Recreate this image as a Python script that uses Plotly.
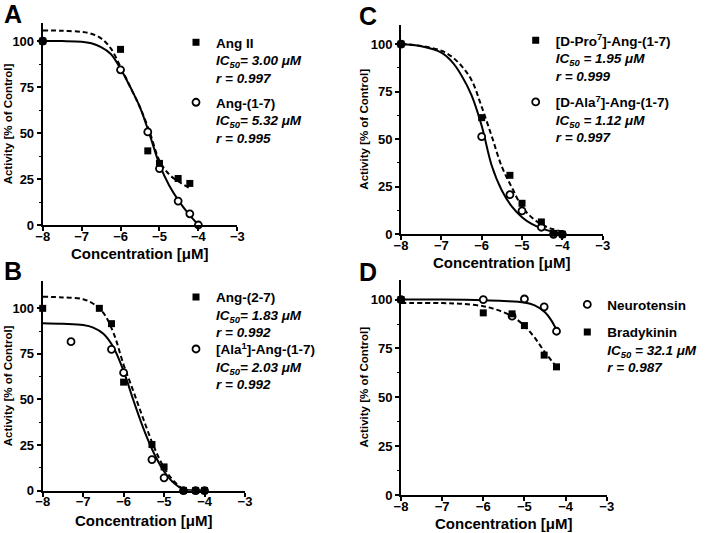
import plotly.graph_objects as go

W, H = 712, 533
FONT = "Liberation Sans, Arial, sans-serif"

# ---------------- data (log10 concentration [M], activity % of control) ----------------
# Panel A
a_conc_angii = [-8, -6, -5.3, -5, -4.52, -4.22]
a_act_angii = [100, 95.5, 40.3, 33.5, 25.3, 22.6]
a_conc_ang17 = [-8, -6, -5.3, -5, -4.52, -4.22, -4]
a_act_ang17 = [100, 84.4, 50.6, 30.7, 13.0, 6.1, 0]
a_fit_x_angii = [-8, -7.5, -7, -6.75, -6.5, -6.25, -6, -5.75, -5.5, -5.25, -5, -4.75, -4.5, -4.22]
a_fit_y_angii = [105.8, 105.6, 105, 104, 101.5, 96, 86, 75, 64, 50.5, 35, 27.5, 23.5, 20]
a_fit_x_ang17 = [-8, -7.5, -7, -6.75, -6.5, -6.25, -6, -5.75, -5.5, -5.25, -5, -4.75, -4.5, -4.25, -4]
a_fit_y_ang17 = [100, 100, 99.7, 98.8, 96.7, 93, 85, 75, 64, 49, 33, 21.5, 13, 6, 0]

# Panel B
b_conc_ang27 = [-8, -6.6, -6.3, -6, -5.3, -5, -4.52, -4.22, -4]
b_act_ang27 = [100, 100, 91.6, 59.5, 25.3, 13, 0, 0, 0]
b_conc_ala1 = [-7.3, -6.3, -6, -5.3, -5, -4.52, -4.22, -4]
b_act_ala1 = [81.7, 77.5, 64.7, 17, 7, 0, 0, 0]
b_fit_x = [-8, -7.5, -7, -6.75, -6.5, -6.25, -6, -5.75, -5.5, -5.25, -5, -4.75, -4.5, -4.25, -4]
b_fit_y_ang27 = [106.4, 106, 105, 102.5, 97.5, 86.5, 69, 54, 38.5, 24, 12.5, 5, 0.5, 0, 0]
b_fit_y_ala1 = [91.8, 91.5, 90.8, 89.4, 86, 78.5, 65.5, 49, 33.5, 20.5, 10.5, 4, 0.5, 0, 0]

# Panel C
c_conc_dpro = [-8, -6, -5.3, -5, -4.52, -4.22, -4]
c_act_dpro = [100, 61.3, 31, 16.3, 6.5, 0.5, 0]
c_conc_dala = [-8, -6, -5.3, -5, -4.52, -4.22, -4]
c_act_dala = [100, 51.3, 20.8, 12.3, 3.7, 0, 0]
c_fit_x = [-8, -7.5, -7, -6.75, -6.5, -6.25, -6, -5.75, -5.5, -5.25, -5, -4.75, -4.5, -4.25, -4]
c_fit_y_dpro = [100, 99, 96.5, 93.5, 88.5, 81, 67, 51.5, 35.5, 24.5, 14.5, 8.7, 5, 2.8, 1.4]
c_fit_y_dala = [100, 98.8, 95.5, 91, 83.5, 73, 57, 36, 23, 14.5, 9, 5.3, 3, 1.5, 0.5]

# Panel D
d_conc_neuro = [-8, -6, -5.3, -5, -4.52, -4.22]
d_act_neuro = [100, 100, 91.5, 100.3, 96.3, 83.8]
d_conc_brady = [-8, -6, -5.3, -5, -4.52, -4.22]
d_act_brady = [100, 93.2, 92.7, 86.7, 71.6, 65.6]
d_fit_x_neuro = [-8, -7, -6, -5.5, -5, -4.75, -4.5, -4.35, -4.22]
d_fit_y_neuro = [100, 100, 99.7, 99.3, 98.5, 97, 93.5, 89.5, 84.5]
d_fit_x_brady = [-8, -7, -6.5, -6, -5.75, -5.5, -5.25, -5, -4.75, -4.5, -4.22]
d_fit_y_brady = [98.3, 98.2, 97.8, 96.6, 95.3, 93.5, 90.8, 86.5, 80.5, 73, 65.6]

x_ticks = [-8, -7, -6, -5, -4, -3]
y_ticks = [0, 25, 50, 75, 100]
y_minor = [12.5, 37.5, 62.5, 87.5]

x_title = "Concentration [μM]"
y_title = "Activity [% of Control]"

# legend texts
lab_angii = "Ang II<br><i>IC<sub>50</sub>= 3.00 μM</i><br><i>r = 0.997</i>"
lab_ang17 = "Ang-(1-7)<br><i>IC<sub>50</sub>= 5.32 μM</i><br><i>r = 0.995</i>"
lab_ang27 = "Ang-(2-7)<br><i>IC<sub>50</sub>= 1.83 μM</i><br><i>r = 0.992</i>"
lab_ala1 = "[Ala<sup>1</sup>]-Ang-(1-7)<br><i>IC<sub>50</sub>= 2.03 μM</i><br><i>r = 0.992</i>"
lab_dpro = "[D-Pro<sup>7</sup>]-Ang-(1-7)<br><i>IC<sub>50</sub> = 1.95 μM</i><br><i>r = 0.999</i>"
lab_dala = "[D-Ala<sup>7</sup>]-Ang-(1-7)<br><i>IC<sub>50</sub> = 1.12 μM</i><br><i>r = 0.997</i>"
lab_neuro = "Neurotensin"
lab_brady = "Bradykinin<br><i>IC<sub>50</sub> = 32.1 μM</i><br><i>r = 0.987</i>"

# ---------------- figure ----------------
fig = go.Figure()

SQ = dict(symbol="square", size=7, color="black", line=dict(width=0))
CI = dict(symbol="circle", size=7, color="white", line=dict(width=1.8, color="black"))
SOLID = dict(color="black", width=2, shape="spline")
DASH = dict(color="black", width=2, dash="5px,3px", shape="spline")


def curve(x, y, ax, style):
    fig.add_trace(go.Scatter(x=x, y=y, mode="lines", line=style, xaxis=ax[0], yaxis=ax[1],
                             showlegend=False, hoverinfo="skip", cliponaxis=False))


def points(x, y, ax, marker, name, legend):
    fig.add_trace(go.Scatter(x=x, y=y, mode="markers", marker=marker, name=name, xaxis=ax[0],
                             yaxis=ax[1], legend=legend, showlegend=True, cliponaxis=False))


A = ("x", "y")
B = ("x2", "y2")
C = ("x3", "y3")
D = ("x4", "y4")

# Panel A
curve(a_fit_x_angii, a_fit_y_angii, A, DASH)
curve(a_fit_x_ang17, a_fit_y_ang17, A, SOLID)
points(a_conc_ang17, a_act_ang17, A, CI, lab_ang17, "legend2")
points(a_conc_angii, a_act_angii, A, SQ, lab_angii, "legend")
# Panel B
curve(b_fit_x, b_fit_y_ang27, B, DASH)
curve(b_fit_x, b_fit_y_ala1, B, SOLID)
points(b_conc_ala1, b_act_ala1, B, CI, lab_ala1, "legend4")
points(b_conc_ang27, b_act_ang27, B, SQ, lab_ang27, "legend3")
# Panel C
curve(c_fit_x, c_fit_y_dpro, C, DASH)
curve(c_fit_x, c_fit_y_dala, C, SOLID)
points(c_conc_dala, c_act_dala, C, CI, lab_dala, "legend6")
points(c_conc_dpro, c_act_dpro, C, SQ, lab_dpro, "legend5")
# Panel D
curve(d_fit_x_brady, d_fit_y_brady, D, DASH)
curve(d_fit_x_neuro, d_fit_y_neuro, D, SOLID)
points(d_conc_neuro, d_act_neuro, D, CI, lab_neuro, "legend7")
points(d_conc_brady, d_act_brady, D, SQ, lab_brady, "legend8")


def px_dom_x(a, b):
    return [a / W, b / W]


def px_dom_y(top, bottom):
    return [1 - bottom / H, 1 - top / H]


TICKFONT = dict(family=FONT, size=13, color="black", weight="bold")


def xaxis(dom, anchor):
    return dict(domain=dom, range=[-8, -3], tickvals=x_ticks, anchor=anchor, automargin=False,
                showline=True, linecolor="black", linewidth=2,
                ticks="outside", ticklen=4, tickwidth=1.5, tickcolor="black",
                ticklabelstandoff=-6,
                tickfont=TICKFONT, showgrid=False, zeroline=False)


def yaxis(dom, top, anchor):
    return dict(domain=dom, range=[0, top], tickvals=y_ticks, anchor=anchor, automargin=False,
                showline=True, linecolor="black", linewidth=2,
                ticks="outside", ticklen=4, tickwidth=1.5, tickcolor="black",
                ticklabelstandoff=0,
                minor=dict(ticks="outside", ticklen=2, tickwidth=1.2, tickcolor="black",
                           tickvals=y_minor),
                tickfont=TICKFONT, showgrid=False, zeroline=False)


def leg(text_x, line_y, single=False):
    off = 15.6 if single else 16.3
    return dict(x=(text_x - 37) / W, y=1 - (line_y - off) / H, xanchor="left", yanchor="top",
                bgcolor="rgba(0,0,0,0)", borderwidth=0, valign="top",
                font=dict(family=FONT, size=13.5, color="black", weight="bold"))


layout = dict(
    width=W, height=H, margin=dict(l=0, r=0, t=0, b=0, autoexpand=False),
    paper_bgcolor="white", plot_bgcolor="white",
    xaxis=xaxis(px_dom_x(42.7, 237.3), "y"),
    yaxis=yaxis(px_dom_y(22.7, 225), 110, "x"),
    xaxis2=xaxis(px_dom_x(42.7, 245), "y2"),
    yaxis2=yaxis(px_dom_y(281, 490.6), 115, "x2"),
    xaxis3=xaxis(px_dom_x(401, 602.7), "y3"),
    yaxis3=yaxis(px_dom_y(25, 234.3), 110, "x3"),
    xaxis4=xaxis(px_dom_x(401, 606.7), "y4"),
    yaxis4=yaxis(px_dom_y(280, 495.2), 110, "x4"),
    legend=leg(213, 43.3),
    legend2=leg(213, 103.3),
    legend3=leg(213, 298),
    legend4=leg(213, 350),
    legend5=leg(552.7, 41.3),
    legend6=leg(552.7, 103),
    legend7=leg(604.3, 304.7, single=True),
    legend8=leg(604.3, 333),
    showlegend=True,
)
fig.update_layout(**layout)

# axis titles (x title centre y in px, y title centre x in px) per panel
titles = [("x", "y", 253, 7.5), ("x2", "y2", 520, 7.5), ("x3", "y3", 262, 364), ("x4", "y4", 523, 364)]
for xa, ya, ty, tx in titles:
    fig.add_annotation(text=x_title, xref=xa + " domain", x=0.5, yref="paper", y=1 - ty / H,
                       showarrow=False, xanchor="center", yanchor="middle",
                       font=dict(family=FONT, size=15, color="black", weight="bold"))
    fig.add_annotation(text=y_title, xref="paper", x=tx / W, yref=ya + " domain", y=0.5,
                       showarrow=False, xanchor="center", yanchor="middle", textangle=-90,
                       font=dict(family=FONT, size=11.5, color="black", weight="bold"))

letters = [("A", 12.5, 13.5), ("B", 12.5, 270.5), ("C", 367.5, 15.5), ("D", 368, 272)]
for t, xp, yp in letters:
    fig.add_annotation(text=t, x=xp / W, y=1 - yp / H, xref="paper", yref="paper",
                       showarrow=False, xanchor="center", yanchor="middle",
                       font=dict(family=FONT, size=25, color="black", weight="bold"))

fig.write_html("out.html", config={"displayModeBar": False},
               post_script="document.body.style.margin='0';")
